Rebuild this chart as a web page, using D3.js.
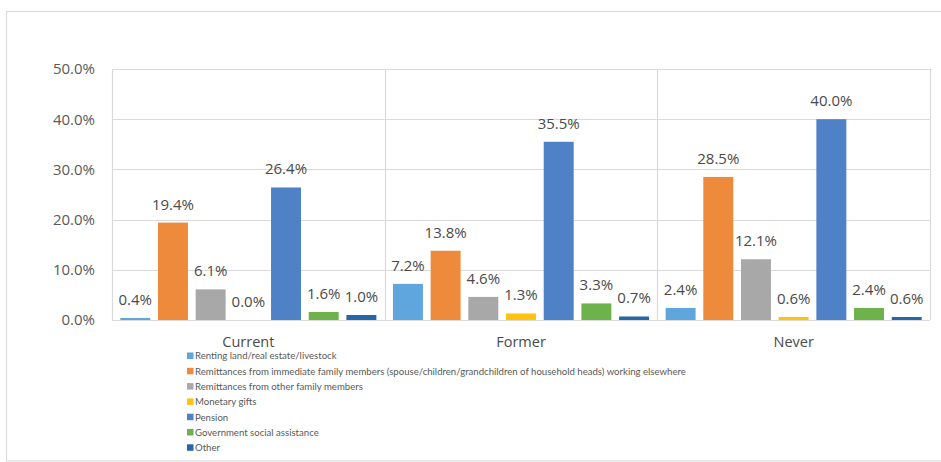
<!DOCTYPE html>
<html>
<head>
<meta charset="utf-8">
<script src="https://cdn.jsdelivr.net/npm/d3@7"></script>
<style>
  html, body { margin: 0; padding: 0; background: #fff; }
  svg { display: block; }
  text { font-family: "Open Sans", "Noto Sans", sans-serif; }
</style>
</head>
<body>
<svg id="chart" width="941" height="462"></svg>
<script>
// Income sources by group (share of households, %)
const categories = ["Current", "Former", "Never"];
const seriesNames = [
  "Renting land/real estate/livestock",
  "Remittances from immediate family members (spouse/children/grandchildren of household heads) working elsewhere",
  "Remittances from other family members",
  "Monetary gifts",
  "Pension",
  "Government social assistance",
  "Other"
];
const seriesColors = ["#5EA6DD", "#EE8A3B", "#A8A8A8", "#FFC20E", "#4F81C6", "#6DB24A", "#2767A8"];
const renting      = [0.4, 7.2, 2.4];
const remitImmed   = [19.4, 13.8, 28.5];
const remitOther   = [6.1, 4.6, 12.1];
const gifts        = [0.0, 1.3, 0.6];
const pension      = [26.4, 35.5, 40.0];
const govAssist    = [1.6, 3.3, 2.4];
const other        = [1.0, 0.7, 0.6];
const yTicks = [0, 10, 20, 30, 40, 50];

const seriesValues = [renting, remitImmed, remitOther, gifts, pension, govAssist, other];

const svg = d3.select("#chart");

// outer chart frame
svg.append("rect")
  .attr("x", 6.5).attr("y", 11.5)
  .attr("width", 960).attr("height", 449.5)
  .attr("fill", "#fff").attr("stroke", "#dcdcdc").attr("stroke-width", 1.2);

const plot = { left: 112, right: 930, top: 69, bottom: 320 };

const y = d3.scaleLinear().domain([0, 50]).range([plot.bottom, plot.top]);
const x0 = d3.scaleBand().domain(categories).range([plot.left, plot.right]).padding(0);
const x1 = d3.scaleBand().domain(d3.range(seriesNames.length))
  .range([0, x0.bandwidth()]).paddingInner(0.205).paddingOuter(0.22);

// horizontal gridlines
svg.append("g").selectAll("line").data(yTicks).join("line")
  .attr("x1", plot.left).attr("x2", plot.right)
  .attr("y1", d => Math.round(y(d)) + 0.5).attr("y2", d => Math.round(y(d)) + 0.5)
  .attr("stroke", "#dadada").attr("stroke-width", 1.2);

// plot border and category separators
svg.append("g").selectAll("line").data([plot.left, x0("Former"), x0("Never"), plot.right]).join("line")
  .attr("x1", d => Math.round(d) + 0.5).attr("x2", d => Math.round(d) + 0.5)
  .attr("y1", plot.top).attr("y2", plot.bottom)
  .attr("stroke", "#dadada").attr("stroke-width", 1.2);

// y axis labels
const yAxis = d3.axisLeft(y).tickValues(yTicks).tickSize(0).tickPadding(0)
  .tickFormat(d => d3.format(".1f")(d) + "%");
const gy = svg.append("g").attr("transform", `translate(95,0)`).call(yAxis);
gy.select(".domain").remove();
gy.selectAll("text")
  .attr("fill", "#595959")
  .style("font-size", "15px")
  .style("font-family", "'Open Sans', sans-serif");

// bars
const groups = svg.append("g").selectAll("g").data(categories).join("g")
  .attr("transform", d => `translate(${x0(d)},0)`);

groups.each(function(cat, ci) {
  const g = d3.select(this);
  const rows = seriesValues.map((vals, si) => ({ si, v: vals[ci] }));
  g.selectAll("rect").data(rows).join("rect")
    .attr("x", d => x1(d.si))
    .attr("width", x1.bandwidth())
    .attr("y", d => y(d.v))
    .attr("height", d => y(0) - y(d.v))
    .attr("fill", d => seriesColors[d.si]);
  g.selectAll("text").data(rows).join("text")
    .attr("x", d => x1(d.si) + x1.bandwidth() / 2)
    .attr("y", d => y(d.v) - 13)
    .attr("text-anchor", "middle")
    .attr("fill", "#4a4a4a")
    .style("font-size", "15px")
    .text(d => d3.format(".1f")(d.v) + "%");
});

// category labels
const xAxis = d3.axisBottom(x0).tickSize(0).tickPadding(0);
const gx = svg.append("g").attr("transform", `translate(0,${plot.bottom + 27})`).call(xAxis);
gx.select(".domain").remove();
gx.selectAll("text")
  .attr("dy", 0)
  .attr("fill", "#4a4a4a")
  .style("font-size", "14.5px")
  .style("font-family", "'Open Sans', sans-serif");

// legend
const legend = svg.append("g").attr("transform", "translate(187,356)");
const rowH = 15.3;
const items = legend.selectAll("g").data(seriesNames).join("g")
  .attr("transform", (d, i) => `translate(0,${i * rowH})`);
items.append("rect")
  .attr("x", 0).attr("y", -3.5).attr("width", 6.5).attr("height", 6.5)
  .attr("fill", (d, i) => seriesColors[i]);
items.append("text")
  .attr("x", 8).attr("y", 0).attr("dy", "0.35em")
  .attr("fill", "#595959")
  .style("font-family", "Lato, sans-serif")
  .style("font-size", "9.6px")
  .text(d => d);
</script>
</body>
</html>
